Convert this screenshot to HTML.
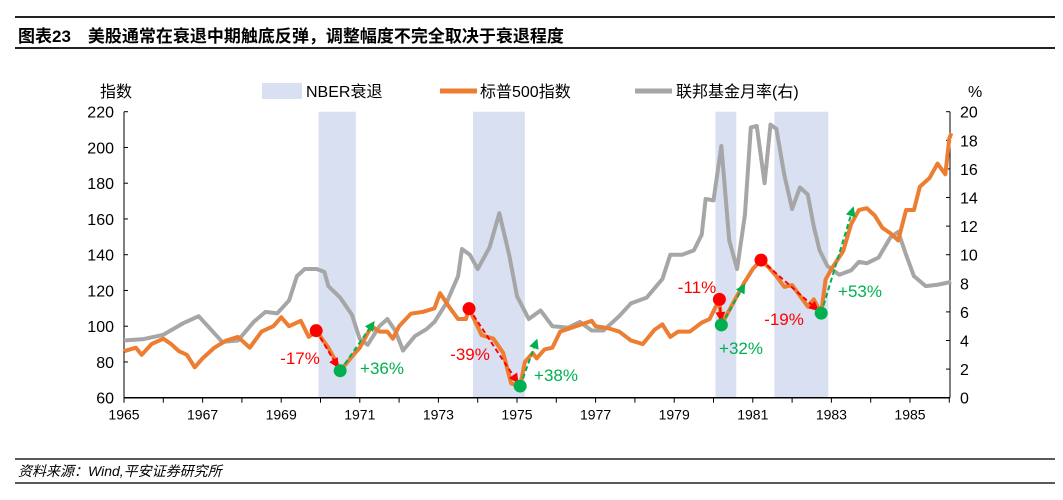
<!DOCTYPE html>
<html><head><meta charset="utf-8"><style>
body{margin:0;background:#fff;width:1063px;height:500px;overflow:hidden;font-family:"Liberation Sans","Noto Sans CJK SC",sans-serif}
svg{position:absolute;left:0;top:0}
</style></head><body>
<svg width="1063" height="500" font-family="Liberation Sans, Noto Sans CJK SC, sans-serif">
<line x1="15" y1="17" x2="1055" y2="17" stroke="#222" stroke-width="2"/>
<text x="18" y="42" font-size="17" font-weight="bold" fill="#000">图表23　美股通常在衰退中期触底反弹，调整幅度不完全取决于衰退程度</text>
<line x1="15" y1="48" x2="1055" y2="48" stroke="#222" stroke-width="2"/>
<text x="100" y="97" font-size="16">指数</text>
<text x="968" y="97" font-size="16">%</text>
<g>
<rect x="262" y="83" width="40" height="16" fill="#d9e0f2"/>
<text x="306" y="97" font-size="16">NBER衰退</text>
<line x1="440" y1="91" x2="477" y2="91" stroke="#ed7d31" stroke-width="5"/>
<text x="480" y="97" font-size="16">标普500指数</text>
<line x1="635" y1="91" x2="672" y2="91" stroke="#a6a6a6" stroke-width="5"/>
<text x="676" y="97" font-size="16">联邦基金月率(右)</text>
</g>
<g id="plot"></g>
<line x1="15" y1="459" x2="1055" y2="459" stroke="#222" stroke-width="1.5"/>
<text x="18" y="476" font-size="14" font-style="italic">资料来源：Wind,平安证券研究所</text>
<line x1="15" y1="483" x2="1055" y2="483" stroke="#222" stroke-width="1.5"/>
</svg>
<script>
const recessions=[[1969.95,1970.9],[1973.88,1975.2],[1980.05,1980.58],[1981.55,1982.92]];
const spYears=[1965,1965.3,1965.45,1965.7,1966,1966.2,1966.4,1966.6,1966.8,1967,1967.3,1967.6,1967.9,1968.2,1968.5,1968.8,1969,1969.2,1969.5,1969.7,1969.89,1970.2,1970.4,1970.5,1970.8,1971,1971.3,1971.5,1971.7,1971.84,1972,1972.3,1972.6,1972.9,1973.04,1973.3,1973.5,1973.7,1973.78,1974.1,1974.4,1974.65,1974.85,1975.08,1975.2,1975.4,1975.5,1975.7,1975.9,1976.1,1976.5,1976.9,1977,1977.3,1977.6,1977.9,1978.2,1978.5,1978.7,1978.9,1979.1,1979.4,1979.7,1979.9,1980.15,1980.2,1980.5,1980.8,1981,1981.21,1981.4,1981.6,1981.8,1982,1982.2,1982.4,1982.55,1982.74,1982.85,1983,1983.3,1983.5,1983.7,1983.9,1984.1,1984.3,1984.5,1984.7,1984.9,1985.1,1985.25,1985.5,1985.7,1985.9,1986,1986.05];
const spValues=[86,88,84,90,93,90,86,84,77,82,88,92,94,88,97,100,105,100,103,94,97.5,88,80,75,83,88,100,97,97,93,100,107,108,110,118.5,110,104,104,109.8,95,93,85,68,66.5,80,85,82,87,88,97,100,103,100,99,97,92,90,98,101,94,97,97,102,104,115,100.7,113,125,132,137,133,128,122,123,117,111,115,107.3,126,132,142,157,165,166,162,155,152,148,165,165,178,183,191,185,205,208];
const ffYears=[1965,1965.5,1966,1966.5,1966.9,1967.2,1967.5,1967.9,1968.3,1968.6,1968.9,1969.2,1969.4,1969.6,1969.9,1970.1,1970.2,1970.5,1970.8,1971,1971.2,1971.5,1971.7,1971.9,1972.1,1972.4,1972.7,1972.9,1973.2,1973.5,1973.6,1973.8,1974,1974.3,1974.55,1974.8,1975,1975.3,1975.6,1975.9,1976.3,1976.6,1976.9,1977.2,1977.6,1977.9,1978.3,1978.7,1978.9,1979.2,1979.5,1979.7,1979.8,1980,1980.2,1980.4,1980.6,1980.8,1980.95,1981.1,1981.3,1981.45,1981.6,1981.8,1982,1982.2,1982.4,1982.55,1982.7,1982.9,1983.2,1983.5,1983.7,1983.9,1984.2,1984.5,1984.7,1984.9,1985.1,1985.4,1985.7,1986.05];
const ffValues=[4,4.1,4.4,5.2,5.7,4.8,3.9,4,5.3,6,5.9,6.8,8.5,9,9,8.8,7.8,7,5.8,4.1,3.7,5,5.5,4.7,3.3,4.3,4.8,5.3,6.6,8.5,10.4,10,9,10.5,12.9,10,7.1,5.5,6.1,5,4.9,5.3,4.7,4.7,5.7,6.6,7,8.3,10,10,10.3,11.4,13.9,13.8,17.6,11,9,12.8,18.9,19,15,19.1,18.8,15.6,13.2,14.7,14.2,12,10.3,9.2,8.6,8.9,9.5,9.4,9.8,11.2,11.6,10,8.5,7.8,7.9,8.1];
const peaks=[[1969.89,97.5],[1973.78,109.8],[1980.15,115],[1981.21,137]];
const troughs=[[1970.5,75.1],[1975.08,66.5],[1980.2,100.7],[1982.74,107.3]];
const recoveryEnds=[[1971.35,102],[1975.5,92],[1980.78,123],[1983.55,166]];
const dropLabels=["-17%","-39%","-11%","-19%"];
const riseLabels=["+36%","+38%","+32%","+53%"];
const leftTicks=[60,80,100,120,140,160,180,200,220];
const rightTicks=[0,2,4,6,8,10,12,14,16,18,20];
const yearLabels=[1965,1967,1969,1971,1973,1975,1977,1979,1981,1983,1985];

const X0=124,YR=39.3,L=124,R=950,T=111.7,B=397.7;
const x=y=>X0+(y-1965)*YR;
const yL=v=>B-(v-60)*(B-T)/160;
const yR=v=>B-v*(B-T)/20;
const NS="http://www.w3.org/2000/svg";
const g=document.getElementById('plot');
function mk(t,a,p){const e=document.createElementNS(NS,t);for(const k in a)e.setAttribute(k,a[k]);(p||g).appendChild(e);return e;}

recessions.forEach(r=>{const e=mk('rect',{x:x(r[0]),y:T,width:x(r[1])-x(r[0]),height:B-T,fill:'#d9e0f2'});

});

// axes
let e=mk('line',{x1:L,y1:T,x2:L,y2:B,stroke:'#000','stroke-width':1});


e=mk('line',{x1:R,y1:T,x2:R,y2:B,stroke:'#000','stroke-width':1});


e=mk('line',{x1:L,y1:B,x2:R,y2:B,stroke:'#000','stroke-width':1.5});


leftTicks.forEach(v=>{mk('line',{x1:L,y1:yL(v),x2:L+4,y2:yL(v),stroke:'#000'});
const t=mk('text',{x:L-10,y:yL(v)+6,'font-size':16,'text-anchor':'end'});t.textContent=v;

});
rightTicks.forEach(v=>{mk('line',{x1:R-4,y1:yR(v),x2:R,y2:yR(v),stroke:'#000'});
const t=mk('text',{x:R+10,y:yR(v)+6,'font-size':16});t.textContent=v;

});
for(let yy=1965;yy<=1986;yy++){mk('line',{x1:x(yy),y1:B,x2:x(yy),y2:B+5,stroke:'#000'});}
yearLabels.forEach(v=>{const t=mk('text',{x:x(v),y:B+22,'font-size':14,'text-anchor':'middle'});t.textContent=v;

});

e=mk('polyline',{points:ffYears.map((v,i)=>x(v)+','+yR(ffValues[i])).join(' '),fill:'none',stroke:'#a6a6a6','stroke-width':4,'stroke-linejoin':'round'});


e=mk('polyline',{points:spYears.map((v,i)=>x(v)+','+yL(spValues[i])).join(' '),fill:'none',stroke:'#ed7d31','stroke-width':4,'stroke-linejoin':'round'});



const defs=mk('defs',{});
[['ar','#ff0000'],['ag','#00b050']].forEach(([id,c])=>{const m=mk('marker',{id,viewBox:'0 0 10 10',refX:8,refY:5,markerWidth:5,markerHeight:5,orient:'auto'},defs);mk('path',{d:'M0,0L10,5L0,10z',fill:c},m);});

peaks.forEach((p,i)=>{const tr=troughs[i],re=recoveryEnds[i];
const x1=x(p[0]),y1=yL(p[1]),x2=x(tr[0]),y2=yL(tr[1]);
const dx=x2-x1,dy=y2-y1,d=Math.hypot(dx,dy);
let a=mk('line',{x1,y1,x2:x2-dx/d*5,y2:y2-dy/d*5,stroke:'#ff0000','stroke-width':2,'stroke-dasharray':'5,3','marker-end':'url(#ar)'});


a=mk('line',{x1:x2,y1:y2,x2:x(re[0]),y2:yL(re[1]),stroke:'#00b050','stroke-width':2,'stroke-dasharray':'5,3','marker-end':'url(#ag)'});


a=mk('circle',{cx:x1,cy:y1,r:6.5,fill:'#ff0000'});


a=mk('circle',{cx:x2,cy:y2,r:6.5,fill:'#00b050'});


});
const dropPos=[[300,364],[470,360],[697,293],[784,325]];
const risePos=[[382,374],[556,381],[741,354],[860,297]];
dropLabels.forEach((s,i)=>{const t=mk('text',{x:dropPos[i][0],y:dropPos[i][1],'font-size':17,fill:'#ff0000','text-anchor':'middle'});t.textContent=s;

});
riseLabels.forEach((s,i)=>{const t=mk('text',{x:risePos[i][0],y:risePos[i][1],'font-size':17,fill:'#00b050','text-anchor':'middle'});t.textContent=s;

});
</script>
</body></html>
